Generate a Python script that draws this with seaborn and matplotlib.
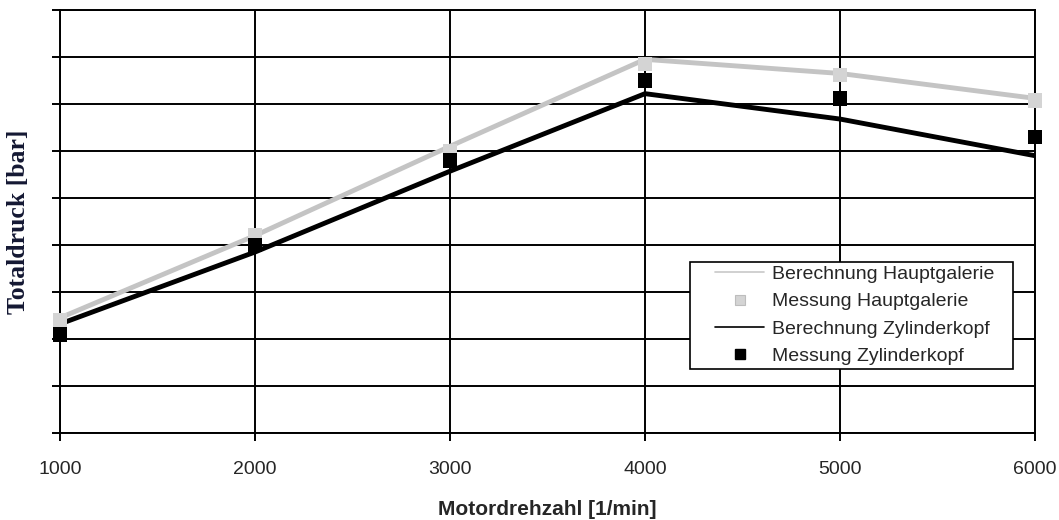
import matplotlib
matplotlib.use("Agg")
import matplotlib.pyplot as plt
from matplotlib.lines import Line2D
from matplotlib.legend_handler import HandlerLine2D
import seaborn as sns
import pandas as pd
import numpy as np

drehzahl = [1000, 2000, 3000, 4000, 5000, 6000]
ber_haupt = [2.45, 4.2, 6.1, 7.95, 7.65, 7.12]
mess_haupt = [2.40, 4.2, 6.0, 7.85, 7.62, 7.08]
ber_zyl = [2.32, 3.85, 5.57, 7.22, 6.68, 5.9]
mess_zyl = [2.10, 4.0, 5.80, 7.50, 7.12, 6.30]

labels = ["Berechnung Hauptgalerie", "Messung Hauptgalerie",
          "Berechnung Zylinderkopf", "Messung Zylinderkopf"]

lines_df = pd.DataFrame({
    "x": drehzahl * 2,
    "y": ber_haupt + ber_zyl,
    "s": [labels[0]] * 6 + [labels[2]] * 6,
})
pts_df = pd.DataFrame({
    "x": drehzahl * 2,
    "y": mess_haupt + mess_zyl,
    "s": [labels[1]] * 6 + [labels[3]] * 6,
})

sns.set_theme(style="white")
plt.rcParams["font.family"] = ["Liberation Sans", "DejaVu Sans"]

fig = plt.figure(figsize=(10.59, 5.2), dpi=100)
ax = fig.add_axes([60 / 1059, 1 - 433 / 520, (1035 - 60) / 1059, (433 - 10) / 520])

gray_line = "#c4c4c4"
gray_pt = "#d4d4d4"
sns.lineplot(data=lines_df, x="x", y="y", hue="s",
             palette={labels[0]: gray_line, labels[2]: "#000000"},
             linewidth=3.5, ax=ax, legend=False, zorder=3)
sns.scatterplot(data=pts_df, x="x", y="y", hue="s",
                palette={labels[1]: gray_pt, labels[3]: "#000000"},
                marker="s", s=110, edgecolor=None, linewidth=0,
                ax=ax, legend=False, zorder=4, clip_on=False)

ax.set_xlim(1000, 6000)
ax.set_ylim(0, 9)
ax.set_xticks(drehzahl)
ax.set_xticklabels([str(v) for v in drehzahl], fontsize=14)
ax.set_yticks(np.arange(0, 10, 1))
ax.set_yticklabels([])
ax.grid(True, color="black", linewidth=1.4)
ax.set_axisbelow(True)
for sp in ax.spines.values():
    sp.set_visible(True)
    sp.set_color("black")
    sp.set_linewidth(1.4)
ax.tick_params(axis="both", direction="out", length=6, width=1.4, color="black",
               bottom=True, left=True)
ax.tick_params(axis="x", pad=14)
ax.set_xlabel("Motordrehzahl [1/min]", fontsize=15, fontweight="bold", labelpad=16)
ax.set_ylabel("Totaldruck [bar]", fontsize=18.5, fontweight="bold", color="#141833",
              family=["Liberation Serif", "DejaVu Serif"], labelpad=12)

handles = [
    Line2D([], [], color="#c8c8c8", linewidth=1.2),
    Line2D([], [], color="#bdbdbd", marker="s", linestyle="none", markersize=7,
           markerfacecolor="#d4d4d4", markeredgewidth=0.8),
    Line2D([], [], color="black", linewidth=1.2),
    Line2D([], [], color="black", marker="s", linestyle="none", markersize=7),
]
hmap = {h: HandlerLine2D(xpad=1.1) for h in handles}
x0 = (690 - 60) / 975
w = (1013 - 690) / 975
y0 = (433 - 369) / 423
leg = ax.legend(handles, labels, loc="lower left", handler_map=hmap, mode="expand",
                bbox_to_anchor=(x0, y0, w, 0.2),
                fontsize=14, frameon=True, fancybox=False, framealpha=1,
                edgecolor="black", handlelength=3.6, borderpad=0.2,
                labelspacing=0.5, handletextpad=0.4, borderaxespad=0)
leg.get_frame().set_linewidth(1.2)

fig.savefig("out.png", dpi=100)
